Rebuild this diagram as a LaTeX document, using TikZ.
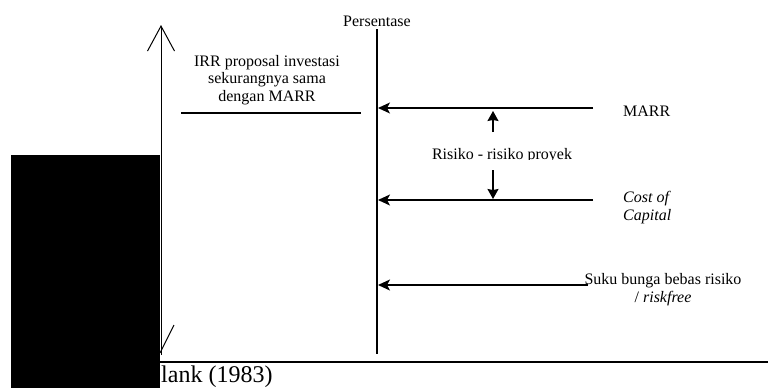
\documentclass[tikz,border=0pt]{standalone}
\usepackage{fontspec}
\setmainfont{Liberation Serif}
\usetikzlibrary{arrows.meta}

\begin{document}
\begin{tikzpicture}[x=1pt,y=-1pt,
  lbl/.style={inner sep=0pt,font=\fontsize{16}{17.5}\selectfont},
  level/.style={line width=1.2pt,-{Stealth[length=12pt,width=11pt,inset=3pt]}},
  risk/.style={line width=1.2pt,-{Stealth[length=10pt,width=11pt,inset=1pt]}}]
\useasboundingbox (0,0) rectangle (768,388);
% left axis with open head
\coordinate (ybot) at (161,355);
\coordinate (ytop) at (161,25);
\draw[line width=1pt,-{Straight Barb[length=25pt,width=27pt]}] (ybot) -- (ytop);
\draw[line width=1pt] (160,353) -- (174,325);
% percentage axis
\node[lbl,anchor=base] (pct) at (377,26) {Persentase};
\coordinate (ctop) at (377,29);
\coordinate (cbot) at (377,354);
\draw[line width=1.3pt] (ctop) -- (cbot);
% IRR line
\node[lbl,anchor=base,align=center] (irr) at (267,101) {IRR proposal investasi\\sekurangnya sama\\dengan MARR};
\coordinate (irrl) at (181,113);
\coordinate (irrr) at (361,113);
\draw[line width=1.2pt] (irrl) -- (irrr);
% MARR
\node[lbl,anchor=base west] (marr) at (623,116) {MARR};
\coordinate (m1) at (593,108);
\coordinate (m0) at (378,108);
\draw[level] (m1) -- (m0);
% cost of capital
\node[lbl,anchor=base west,align=left] (coc) at (623,220) {\itshape Cost of\\\itshape Capital};
\coordinate (c1) at (593,200);
\coordinate (c0) at (378,200);
\draw[level] (c1) -- (c0);
% risk premium
\begin{scope}
\clip (420,140) rectangle (600,159);
\node[lbl,anchor=base] (rsk) at (502,159) {Risiko - risiko proyek};
\end{scope}
\coordinate (u0) at (493,132);
\coordinate (u1) at (493,111);
\coordinate (d0) at (493,170);
\coordinate (d1) at (493,199);
\draw[risk] (u0) -- (u1);
\draw[risk] (d0) -- (d1);
% risk free
\node[lbl,anchor=base,align=center] (rf) at (663,302) {Suku bunga bebas risiko\\/ \itshape riskfree};
\coordinate (f1) at (588,285);
\coordinate (f0) at (378,285);
\draw[level] (f1) -- (f0);
% bottom rule and source
\draw[line width=1.5pt] (160,362) -- (768,362);
\node[inner sep=0pt,anchor=base west,font=\fontsize{24}{26}\selectfont] (src) at (161,382) {lank (1983)};
\fill[black] (11,155) rectangle (160,388);
\end{tikzpicture}
\end{document}
